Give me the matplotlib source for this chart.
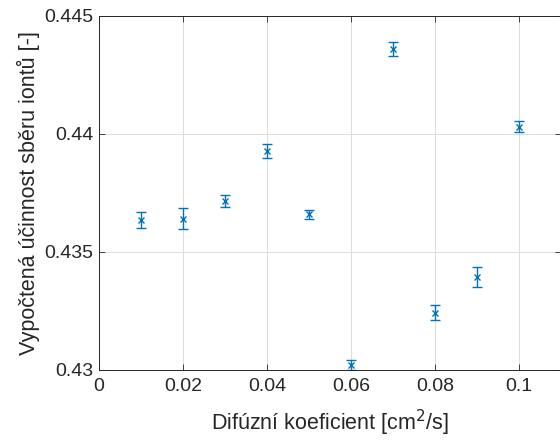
import matplotlib.pyplot as plt

plt.rcParams['font.family'] = ['Liberation Sans', 'DejaVu Sans']

D = [0.01, 0.02, 0.03, 0.04, 0.05, 0.06, 0.07, 0.08, 0.09, 0.10]
eff = [0.43636, 0.43641, 0.43716, 0.43928, 0.43660, 0.43021, 0.44361, 0.43243, 0.43394, 0.44031]
err = [0.00033, 0.00044, 0.00025, 0.00031, 0.00020, 0.00020, 0.00029, 0.00031, 0.00044, 0.00023]

xticks = [0, 0.02, 0.04, 0.06, 0.08, 0.1]
xticklabels = ['0', '0.02', '0.04', '0.06', '0.08', '0.1']
yticks = [0.43, 0.435, 0.44, 0.445]
yticklabels = ['0.43', '0.435', '0.44', '0.445']

blue = (0, 0.447, 0.741)

fig = plt.figure(figsize=(5.6, 4.41), dpi=100)
ax = fig.add_axes([99/560, 71/441, 462/560, 354/441])

ax.errorbar(D, eff, yerr=err, fmt='x', color=blue, ecolor=blue,
            markersize=4.5, elinewidth=1.0, capsize=3.5, capthick=1.0, mew=1.0)

ax.set_xlim(0, 0.11)
ax.set_ylim(0.43, 0.445)
ax.set_xticks(xticks)
ax.set_xticklabels(xticklabels)
ax.set_yticks(yticks)
ax.set_yticklabels(yticklabels)
ax.tick_params(direction='in', top=True, right=True, labelsize=14,
               colors='#262626', length=4, width=0.6)
ax.tick_params(axis='x', pad=6)
ax.tick_params(axis='y', pad=4)
for s in ax.spines.values():
    s.set_color('#262626')
    s.set_linewidth(0.7)
ax.grid(True, color='#dcdcdc', linewidth=0.7)
ax.set_axisbelow(True)

ax.set_xlabel('Difúzní koeficient [cm$^2$/s]', fontsize=15.5, color='#262626', labelpad=9)
ax.set_ylabel('Vypočtená účinnost sběru iontů [-]', fontsize=15.5, color='#262626', labelpad=3)

fig.savefig('out.png', dpi=100)
